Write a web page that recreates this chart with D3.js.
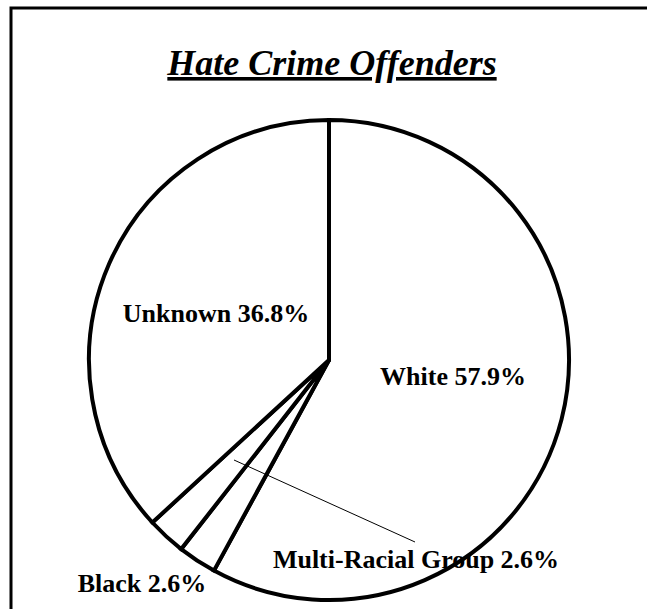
<!DOCTYPE html>
<html>
<head>
<meta charset="utf-8">
<script src="https://cdn.jsdelivr.net/npm/d3@7"></script>
<style>
  body { margin: 0; background: #fff; }
  svg { display: block; }
  text { font-family: "Liberation Serif", "Times New Roman", serif; font-weight: bold; fill: #000; }
</style>
</head>
<body>
<div id="chart"></div>
<script>
const WIDTH = 647;
const HEIGHT = 609;
const CX = 329;
const CY = 360;
const RADIUS = 240;

// data, clockwise from 12 o'clock
var categories = ["White", "Multi-Racial Group", "Black", "Unknown"];
var percents = [57.9, 2.6, 2.6, 36.8];

// where each label sits, relative to the pie centre
var labelOffset = {
    "White": [124, 25],
    "Multi-Racial Group": [87, 208],
    "Black": [-187, 232],
    "Unknown": [-113, -38]
};

// leader line for the multi-racial label, relative to the pie centre
var leader = [[-95, 100], [86, 182]];

var svg = d3.select("#chart")
    .append("svg")
    .attr("width", WIDTH)
    .attr("height", HEIGHT);

// frame (right and bottom edges run off the page)
svg.append("rect")
    .attr("x", 11)
    .attr("y", 8)
    .attr("width", 800)
    .attr("height", 800)
    .attr("fill", "none")
    .attr("stroke", "#000")
    .attr("stroke-width", 3);

// title
svg.append("text")
    .attr("x", 332)
    .attr("y", 75)
    .attr("text-anchor", "middle")
    .style("font-size", "36px")
    .style("font-style", "italic")
    .style("text-decoration", "underline")
    .text("Hate Crime Offenders");

var slices = categories.map((c, i) => ({ name: c, value: percents[i] }));

var pie = d3.pie()
    .sort(null)
    .value((d) => d.value);

var arc = d3.arc()
    .innerRadius(0)
    .outerRadius(RADIUS);

var g = svg.append("g")
    .attr("transform", "translate(" + CX + "," + CY + ")");

var arcs = pie(slices);

g.selectAll("path")
    .data(arcs)
    .enter()
    .append("path")
    .attr("d", arc)
    .attr("fill", "#fff")
    .attr("stroke", "#000")
    .attr("stroke-width", 4);

g.append("line")
    .attr("x1", leader[0][0])
    .attr("y1", leader[0][1])
    .attr("x2", leader[1][0])
    .attr("y2", leader[1][1])
    .attr("stroke", "#000")
    .attr("stroke-width", 1);

g.selectAll("text.label")
    .data(arcs)
    .enter()
    .append("text")
    .attr("class", "label")
    .attr("x", (d) => labelOffset[d.data.name][0])
    .attr("y", (d) => labelOffset[d.data.name][1])
    .attr("text-anchor", "middle")
    .style("font-size", "26px")
    .text((d) => d.data.name + " " + d.data.value + "%");
</script>
</body>
</html>
